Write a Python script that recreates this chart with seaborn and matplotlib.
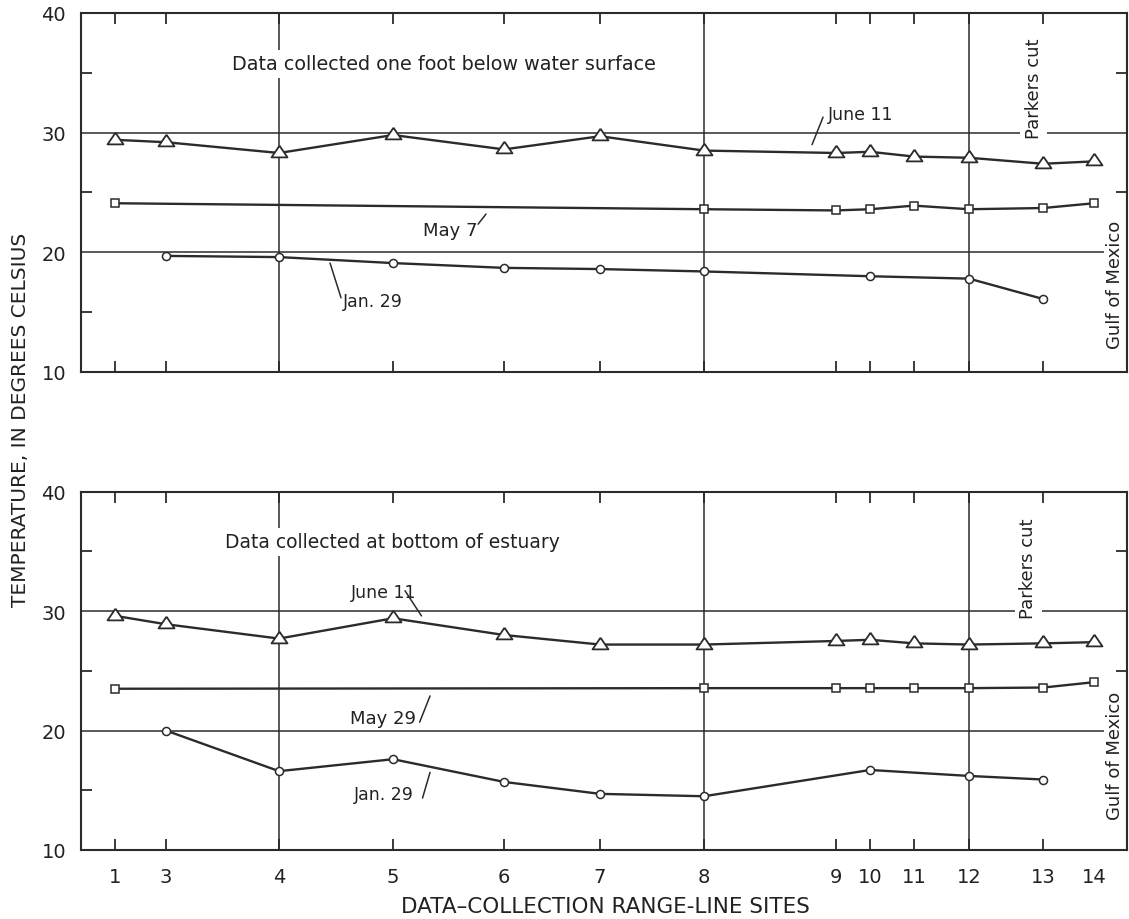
import numpy as np
import pandas as pd
import matplotlib
matplotlib.use("Agg")
import matplotlib.pyplot as plt
import seaborn as sns

# ---------------- data ----------------
sites = ["1", "3", "4", "5", "6", "7", "8", "9", "10", "11", "12", "13", "14"]
# relative distance of each range-line site along the estuary (axis units)
site_distance = [34.7, 85.3, 198.3, 312.3, 423.3, 519.3, 623.3,
                 755.3, 789.3, 833.3, 888.3, 962.3, 1013.3]
x_max = 1046.3
grid_sites = ["4", "8", "12"]
grid_temps = [20, 30]

nan = np.nan
surface_jun11 = [29.4, 29.2, 28.3, 29.8, 28.6, 29.7, 28.5, 28.3, 28.4, 28.0, 27.9, 27.4, 27.6]
surface_may7 = [24.1, nan, nan, nan, nan, nan, 23.6, 23.5, 23.6, 23.9, 23.6, 23.7, 24.1]
surface_jan29 = [nan, 19.7, 19.6, 19.1, 18.7, 18.6, 18.4, nan, 18.0, nan, 17.8, 16.1, nan]

bottom_jun11 = [29.6, 28.9, 27.7, 29.4, 28.0, 27.2, 27.2, 27.5, 27.6, 27.3, 27.2, 27.3, 27.4]
bottom_may29 = [23.5, nan, nan, nan, nan, nan, 23.55, 23.55, 23.55, 23.55, 23.55, 23.6, 24.05]
bottom_jan29 = [nan, 20.0, 16.6, 17.6, 15.7, 14.7, 14.5, nan, 16.7, nan, 16.2, 15.9, nan]

# ---------------- style ----------------
sns.set_style("white")
plt.rcParams["font.family"] = ["DejaVu Sans"]
INK = "#2b2b2b"
TXT = "#222222"

fig = plt.figure(figsize=(11.29, 9.2), dpi=100)
ax1 = fig.add_axes([0.0715, 0.5946, 0.9268, 0.3902])
ax2 = fig.add_axes([0.0715, 0.0750, 0.9268, 0.3895])

pos_of = dict(zip(sites, site_distance))

# open triangle, slightly flatter than equilateral, centred on its centroid
tri_h = 0.73
tri = [(0.0, 2 * tri_h / 3), (-0.5, -tri_h / 3), (0.5, -tri_h / 3), (0.0, 2 * tri_h / 3)]
series_style = {
    "tri": dict(marker=tri, markersize=11.5, markeredgewidth=1.3),
    "sq": dict(marker="s", markersize=5.4, markeredgewidth=1.1),
    "ci": dict(marker="o", markersize=5.8, markeredgewidth=1.1),
}


def draw_series(ax, values, kind):
    df = pd.DataFrame({"pos": site_distance, "temp": values}).dropna()
    sns.lineplot(data=df, x="pos", y="temp", ax=ax, color=INK, linewidth=1.7,
                 markerfacecolor="white", markeredgecolor=INK, errorbar=None,
                 zorder=4, **series_style[kind])


def setup_axes(ax, show_xlabels):
    ax.set_xlim(0, x_max)
    ax.set_ylim(10, 40)
    for s in ax.spines.values():
        s.set_visible(True)
        s.set_linewidth(1.5)
        s.set_color(INK)
        s.set_zorder(6)
    for g in grid_sites:
        ax.axvline(pos_of[g], color=INK, linewidth=1.1, zorder=1)
    for t in grid_temps:
        ax.axhline(t, color=INK, linewidth=1.1, zorder=1)
    ax.set_xticks(site_distance)
    ax.set_xticklabels(sites)
    ax.tick_params(axis="x", which="major", direction="in", top=True, bottom=True,
                   length=8, width=1.3, color=INK, labelsize=14, pad=12,
                   labelcolor=TXT, labelbottom=show_xlabels)
    xt = ax.xaxis.get_major_ticks()
    xt[-1].tick1line.set_visible(False)
    xt[-1].tick2line.set_visible(False)
    ax.set_yticks([10, 20, 30, 40])
    ax.set_yticklabels(["10", "20", "30", "40"])
    ax.set_yticks([15, 25, 35], minor=True)
    ax.tick_params(axis="y", which="major", length=0, pad=10.5, labelsize=14,
                   labelcolor=TXT)
    ax.tick_params(axis="y", which="minor", direction="in", left=True, right=True,
                   length=8, width=1.3, color=INK)
    ax.set_xlabel("")
    ax.set_ylabel("")


white_box = dict(facecolor="white", edgecolor="none", boxstyle="square,pad=0.25")
side_box = dict(facecolor="white", edgecolor="none", boxstyle="square,pad=0.12")


def leader(ax, start, end):
    ax.annotate("", xy=end, xytext=start,
                arrowprops=dict(arrowstyle="-", color=INK, linewidth=1.1,
                                shrinkA=0, shrinkB=0), zorder=3)


# ---------------- top panel ----------------
draw_series(ax1, surface_jun11, "tri")
draw_series(ax1, surface_may7, "sq")
draw_series(ax1, surface_jan29, "ci")
setup_axes(ax1, False)

ax1.text(363.3, 35.74, "Data collected one foot below water surface", ha="center",
         va="center", fontsize=13.8, color=TXT, bbox=white_box, zorder=3)
ax1.text(747.3, 31.56, "June 11", ha="left", va="center", fontsize=12.5, color=TXT, zorder=3)
leader(ax1, (731.3, 29.0), (742.3, 31.3))
ax1.text(342.0, 21.9, "May 7", ha="left", va="center", fontsize=13, color=TXT, zorder=3)
leader(ax1, (397.3, 22.35), (405.3, 23.2))
ax1.text(262.3, 15.97, "Jan. 29", ha="left", va="center", fontsize=12.5, color=TXT, zorder=3)
leader(ax1, (249.3, 19.1), (260.3, 16.2))
ax1.text(952.8, 33.73, "Parkers cut", rotation=90, ha="center", va="center",
         fontsize=13, color=TXT, bbox=white_box, zorder=3)
ax1.text(1034.3, 17.36, "Gulf of Mexico", rotation=90, ha="center", va="center",
         fontsize=13, color=TXT, bbox=side_box, zorder=3)

# ---------------- bottom panel ----------------
draw_series(ax2, bottom_jun11, "tri")
draw_series(ax2, bottom_may29, "sq")
draw_series(ax2, bottom_jan29, "ci")
setup_axes(ax2, True)

ax2.text(311.3, 35.79, "Data collected at bottom of estuary", ha="center",
         va="center", fontsize=13.5, color=TXT, bbox=white_box, zorder=3)
ax2.text(270.3, 31.6, "June 11", ha="left", va="center", fontsize=12.5, color=TXT, zorder=3)
leader(ax2, (324.3, 31.7), (340.7, 29.6))
ax2.text(269.3, 21.05, "May 29", ha="left", va="center", fontsize=13, color=TXT, zorder=3)
leader(ax2, (338.9, 20.7), (349.3, 22.9))
ax2.text(272.9, 14.68, "Jan. 29", ha="left", va="center", fontsize=12.5, color=TXT, zorder=3)
leader(ax2, (341.8, 14.35), (349.3, 16.5))
ax2.text(947.3, 33.6, "Parkers cut", rotation=90, ha="center", va="center",
         fontsize=13, color=TXT, bbox=white_box, zorder=3)
ax2.text(1034.3, 17.95, "Gulf of Mexico", rotation=90, ha="center", va="center",
         fontsize=13, color=TXT, bbox=side_box, zorder=3)

# ---------------- axis titles ----------------
fig.text(20.5 / 1129, 1 - 420 / 920, "TEMPERATURE, IN DEGREES CELSIUS", rotation=90,
         ha="center", va="center", fontsize=14.5, color=TXT)
fig.text(605 / 1129, 1 - 907 / 920, "DATA\u2013COLLECTION RANGE-LINE SITES",
         ha="center", va="center", fontsize=15.5, color=TXT)

fig.savefig("out.png", dpi=100)
